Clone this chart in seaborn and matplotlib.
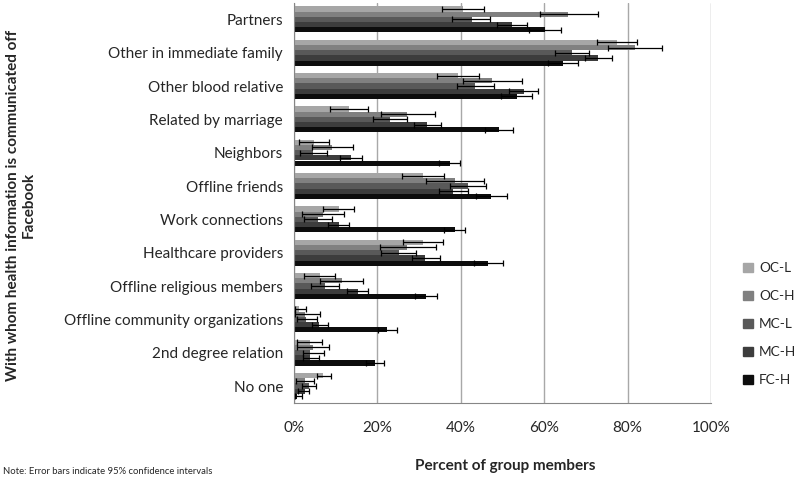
import numpy as np
import pandas as pd
import seaborn as sns
import matplotlib.pyplot as plt
from matplotlib.ticker import MultipleLocator, FixedLocator, PercentFormatter

# Categories (top to bottom) and groups
categories = [
    "Partners", "Other in immediate family", "Other blood relative",
    "Related by marriage", "Neighbors", "Offline friends", "Work connections",
    "Healthcare providers", "Offline religious members",
    "Offline community organizations", "2nd degree relation", "No one",
]
groups = ["OC-L", "OC-H", "MC-L", "MC-H", "FC-H"]

# Percent of group members
oc_l = [40.6, 77.4, 39.4, 13.1, 4.8, 31.0, 10.7, 31.0, 6.2, 1.3, 3.8, 7.0]
oc_h = [65.8, 81.8, 47.6, 27.2, 9.1, 38.7, 7.0, 27.2, 11.4, 2.6, 4.6, 2.6]
mc_l = [42.6, 66.7, 43.5, 23.1, 4.6, 41.8, 5.8, 25.1, 7.4, 2.8, 3.9, 3.6]
mc_h = [52.2, 73.0, 55.1, 32.0, 13.6, 38.2, 10.7, 31.5, 15.3, 6.0, 3.8, 2.6]
fc_h = [60.2, 64.6, 53.4, 49.1, 37.4, 47.2, 38.6, 46.6, 31.7, 22.4, 19.4, 0.6]

# 95% confidence interval bounds
oc_l_lo = [35.4, 72.7, 34.2, 8.6, 1.2, 26.0, 7.0, 26.2, 2.4, 0.2, 0.7, 5.6]
oc_l_hi = [45.6, 82.2, 44.4, 17.8, 8.4, 36.0, 14.3, 35.8, 9.8, 2.8, 6.6, 8.8]
oc_h_lo = [59.0, 75.4, 40.6, 20.8, 4.2, 31.6, 2.0, 20.6, 6.2, 0.2, 0.7, 0.4]
oc_h_hi = [73.0, 88.2, 54.7, 33.8, 14.2, 45.6, 12.0, 34.1, 16.6, 6.2, 8.4, 4.7]
mc_l_lo = [38.0, 62.6, 39.0, 19.0, 1.4, 37.4, 2.4, 20.8, 4.1, 0.6, 2.2, 1.8]
mc_l_hi = [47.0, 70.8, 48.0, 27.2, 7.9, 46.1, 9.0, 29.3, 10.8, 5.4, 7.1, 5.2]
mc_h_lo = [48.7, 69.8, 51.5, 28.8, 11.0, 34.7, 8.2, 28.3, 12.7, 4.2, 2.2, 1.0]
mc_h_hi = [55.8, 76.2, 58.6, 35.3, 16.2, 41.8, 13.2, 35.0, 17.8, 8.2, 6.0, 3.6]
fc_h_lo = [56.4, 61.0, 49.6, 45.8, 34.7, 43.6, 35.9, 43.1, 29.0, 20.2, 17.2, 0.2]
fc_h_hi = [64.0, 68.0, 57.1, 52.6, 39.9, 51.0, 41.1, 50.2, 34.4, 24.6, 21.6, 2.0]

values = [oc_l, oc_h, mc_l, mc_h, fc_h]
lows = [oc_l_lo, oc_h_lo, mc_l_lo, mc_h_lo, fc_h_lo]
highs = [oc_l_hi, oc_h_hi, mc_l_hi, mc_h_hi, fc_h_hi]

colors = ["#a6a6a6", "#808080", "#595959", "#3d3d3d", "#0d0d0d"]

df = pd.DataFrame({
    "category": np.tile(categories, len(groups)),
    "group": np.repeat(groups, len(categories)),
    "pct": np.concatenate(values),
})

sns.set_style("white")
plt.rcParams["font.family"] = ["Lato", "DejaVu Sans"]

fig = plt.figure(figsize=(8, 4.79), dpi=100)
ax = fig.add_axes([294 / 800, 1 - 402.7 / 479, 417 / 800, 400 / 479])

sns.barplot(data=df, y="category", x="pct", hue="group", order=categories,
            hue_order=groups, palette=colors, orient="h", errorbar=None,
            width=0.78, saturation=1, linewidth=0, ax=ax, legend=False)

# asymmetric error bars from the CI bounds
for cont, v, lo, hi in zip(ax.containers, values, lows, highs):
    ys = [b.get_y() + b.get_height() / 2 for b in cont]
    v = np.array(v)
    xerr = [v - np.array(lo), np.array(hi) - v]
    ax.errorbar(v, ys, xerr=xerr, fmt="none", ecolor="black",
                elinewidth=0.9, capsize=2.5, capthick=0.9, zorder=5)

ax.set_xlim(0, 100)
ax.set_ylim(len(categories) - 0.5, -0.5)
ax.xaxis.set_major_locator(MultipleLocator(20))
ax.xaxis.set_minor_locator(MultipleLocator(10))
ax.xaxis.set_major_formatter(PercentFormatter(decimals=0))
ax.grid(axis="x", color="#a8a8a8", lw=1)
ax.set_axisbelow(True)

ax.yaxis.set_minor_locator(FixedLocator(np.arange(-0.5, len(categories), 1)))
ax.tick_params(axis="y", which="major", length=0, pad=8, labelsize=11)
ax.tick_params(axis="y", which="minor", length=4, color="#868686", width=1)
ax.tick_params(axis="x", which="both", length=4, color="#868686", width=1,
               direction="out", labelsize=11, pad=9)

for s in ["top", "right"]:
    ax.spines[s].set_visible(False)
for s in ["left", "bottom"]:
    ax.spines[s].set_color("#868686")

ax.set_xlabel("")
ax.set_ylabel("")

fig.text(505 / 800, 1 - 466 / 479, "Percent of group members", ha="center",
         va="center", fontsize=11, fontweight="bold")
fig.text(21 / 800, 1 - 205 / 479,
         "With whom health information is communicated off\nFacebook",
         ha="center", va="center", rotation=90, fontsize=11,
         fontweight="bold", linespacing=1.2)
fig.text(3 / 800, 1 - 471 / 479, "Note: Error bars indicate 95% confidence intervals",
         ha="left", va="center", fontsize=6.8)

handles = [plt.Rectangle((0, 0), 1, 1, color=c) for c in colors]
fig.legend(handles, groups, loc="upper left", bbox_to_anchor=(731 / 800, 1 - 250 / 479),
           frameon=False, fontsize=9.8, handlelength=0.7, handleheight=0.7,
           handletextpad=0.45, labelspacing=1.18)

fig.savefig("out.png", dpi=100)
